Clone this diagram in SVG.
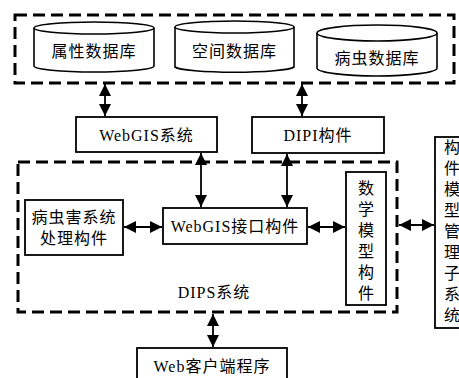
<svg xmlns="http://www.w3.org/2000/svg" width="459" height="378" viewBox="0 0 459 378">
  <style>
    .box { fill: #fff; stroke: #000; stroke-width: 1.8; }
    .cyl { fill: #fff; stroke: #000; stroke-width: 1.6; }
    .dash { fill: none; stroke: #000; stroke-width: 3; stroke-dasharray: 12 6; }
    .link { stroke: #000; stroke-width: 1.8; fill: none; marker-start: url(#ah); marker-end: url(#ah); }
    text { font-family: "Liberation Serif", "Noto Sans CJK SC", serif; font-size: 16px; fill: #000; letter-spacing: 1px; text-anchor: middle; dominant-baseline: central; }
    .v { letter-spacing: 0; }
  </style>
  <defs>
    <marker id="ah" viewBox="0 0 12 12" refX="12" refY="6" markerWidth="12" markerHeight="12" markerUnits="userSpaceOnUse" orient="auto-start-reverse">
      <path d="M0,0 L12,6 L0,12 Z" fill="#000"/>
    </marker>
  </defs>

  <!-- database tier -->
  <rect id="db-tier" class="dash" x="15" y="15" width="439" height="68"/>

  <g id="db-attr">
    <path class="cyl" d="M34,28 L34,66 A60,6 0 0 0 154,66 L154,28"/>
    <ellipse class="cyl" cx="94" cy="28" rx="60" ry="6"/>
    <text x="94" y="51">属性数据库</text>
  </g>
  <g id="db-space">
    <path class="cyl" d="M175,27 L175,67 A60,6 0 0 0 294,67 L294,27"/>
    <ellipse class="cyl" cx="234.5" cy="27" rx="59.5" ry="6"/>
    <text x="234.5" y="51">空间数据库</text>
  </g>
  <g id="db-pest">
    <path class="cyl" d="M317,33 L317,68 A60,8 0 0 0 437,68 L437,33"/>
    <ellipse class="cyl" cx="377" cy="33" rx="60" ry="8"/>
    <text x="377" y="58">病虫数据库</text>
  </g>

  <g id="webgis-sys">
    <rect class="box" x="76" y="117" width="141" height="35"/>
    <text x="146.5" y="135">WebGIS系统</text>
  </g>
  <g id="dipi">
    <rect class="box" x="252" y="117" width="132" height="36"/>
    <text x="318" y="135">DIPI构件</text>
  </g>

  <!-- DIPS system boundary -->
  <g id="dips">
    <rect class="dash" x="18" y="162" width="379" height="150"/>
    <text x="214" y="292">DIPS系统</text>
  </g>

  <g id="pest-proc">
    <rect class="box" x="25" y="200" width="98" height="55"/>
    <text x="74" y="217">病虫害系统</text>
    <text x="74" y="238">处理构件</text>
  </g>
  <g id="webgis-if">
    <rect class="box" x="163" y="208" width="144" height="36"/>
    <text x="235" y="226">WebGIS接口构件</text>
  </g>
  <g id="math-model">
    <rect class="box" x="346" y="172" width="40" height="133"/>
    <text class="v" x="366" y="188">数</text>
    <text class="v" x="366" y="209">学</text>
    <text class="v" x="366" y="230">模</text>
    <text class="v" x="366" y="251">型</text>
    <text class="v" x="366" y="272">构</text>
    <text class="v" x="366" y="293">件</text>
  </g>
  <g id="model-mgr">
    <rect class="box" x="435" y="137" width="30" height="191"/>
    <text class="v" x="452" y="147.5">构</text>
    <text class="v" x="452" y="168.5">件</text>
    <text class="v" x="452" y="189.5">模</text>
    <text class="v" x="452" y="210.5">型</text>
    <text class="v" x="452" y="231.5">管</text>
    <text class="v" x="452" y="252.5">理</text>
    <text class="v" x="452" y="273.5">子</text>
    <text class="v" x="452" y="294.5">系</text>
    <text class="v" x="452" y="315.5">统</text>
  </g>
  <g id="web-client">
    <rect class="box" x="137" y="348" width="150" height="40"/>
    <text x="212" y="366">Web客户端程序</text>
  </g>

  <!-- two-way links -->
  <g id="connectors">
    <line class="link" x1="105" y1="84" x2="105" y2="116"/>
    <line class="link" x1="302" y1="84" x2="302" y2="116"/>
    <line class="link" x1="201" y1="153" x2="201" y2="207"/>
    <line class="link" x1="287" y1="154" x2="287" y2="207"/>
    <line class="link" x1="124" y1="227" x2="162" y2="227"/>
    <line class="link" x1="308" y1="227" x2="345" y2="227"/>
    <line class="link" x1="399" y1="225" x2="434" y2="225"/>
    <line class="link" x1="213" y1="314" x2="213" y2="347"/>
  </g>
</svg>
